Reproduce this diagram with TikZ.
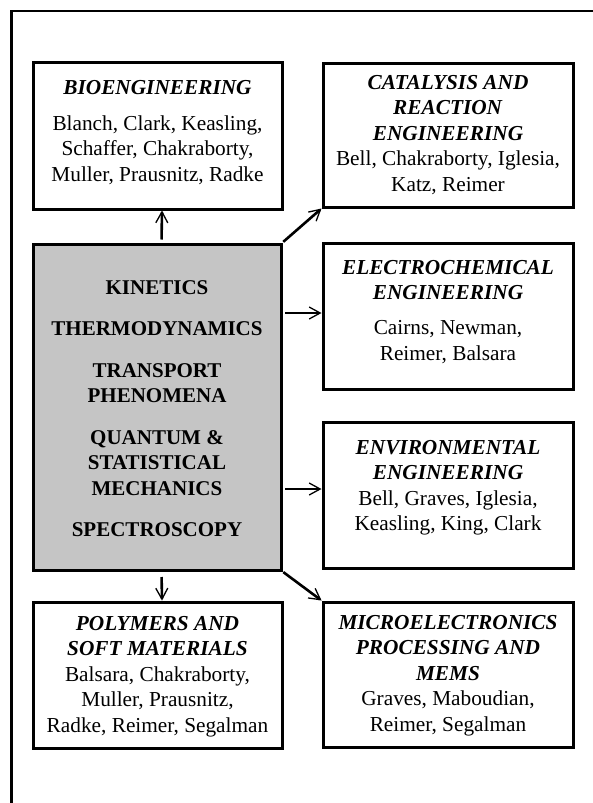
\documentclass[tikz,border=0pt]{standalone}
\usepackage{fontspec}
\setmainfont{Liberation Serif}
\usetikzlibrary{arrows.meta}
\definecolor{boxgray}{RGB}{197,197,197}
\tikzset{
  frame/.style={line width=2.5pt, line join=miter},
  areabox/.style={draw, line width=3pt, inner sep=0pt, fill=white},
  corebox/.style={draw, line width=3pt, inner sep=0pt, fill=boxgray},
  txt/.style={anchor=north, align=center, inner sep=0pt, font=\fontsize{21.3}{25.5}\selectfont},
  coretxt/.style={anchor=north, align=center, inner sep=0pt, font=\fontsize{21}{25.5}\selectfont\bfseries},
  arr/.style={line width=2.6pt, -{Straight Barb[length=11pt,width=12pt,line width=1.3pt]}},
}
\newcommand{\ttl}[1]{\textbf{\textit{#1}}}
\begin{document}
\begin{tikzpicture}[x=1pt,y=-1pt]
\useasboundingbox (0,0) rectangle (592,803);
\fill[white] (0,0) rectangle (592,803);
\draw[frame] (11.5,806) -- (11.5,11) -- (595,11);

% boxes
\node[areabox, minimum width=249pt, minimum height=147pt] (bio) at (157.5,135.5) {};
\node[areabox, minimum width=250pt, minimum height=144pt] (cat) at (448,135) {};
\node[areabox, minimum width=250pt, minimum height=146pt] (elec) at (448,316) {};
\node[areabox, minimum width=250pt, minimum height=146pt] (env) at (448,495) {};
\node[corebox, minimum width=248pt, minimum height=326pt] (core) at (157,407) {};
\node[areabox, minimum width=249pt, minimum height=146pt] (poly) at (157.5,675) {};
\node[areabox, minimum width=250pt, minimum height=145pt] (micro) at (448,674.5) {};

% texts
\node[txt] (biot) at (157.5,79.8) {\ttl{BIOENGINEERING}\\[10.5pt]
  Blanch, Clark, Keasling,\\ Schaffer, Chakraborty,\\ Muller, Prausnitz, Radke};
\node[txt] (catt) at (448,74.8) {\ttl{CATALYSIS AND}\\ \ttl{REACTION}\\ \ttl{ENGINEERING}\\
  Bell, Chakraborty, Iglesia,\\ Katz, Reimer};
\node[txt] (elect) at (448,259.8) {\ttl{ELECTROCHEMICAL}\\ \ttl{ENGINEERING}\\[9.5pt]
  Cairns, Newman,\\ Reimer, Balsara};
\node[txt] (envt) at (448,439.8) {\ttl{ENVIRONMENTAL}\\ \ttl{ENGINEERING}\\
  Bell, Graves, Iglesia,\\ Keasling, King, Clark};
\node[coretxt] (coret) at (157,280) {KINETICS\\[16pt] THERMODYNAMICS\\[16pt]
  TRANSPORT\\ PHENOMENA\\[16pt] QUANTUM \&\\ STATISTICAL\\ MECHANICS\\[16pt] SPECTROSCOPY};
\node[txt] (polyt) at (157.5,615.8) {\ttl{POLYMERS AND}\\ \ttl{SOFT MATERIALS}\\
  Balsara, Chakraborty,\\ Muller, Prausnitz,\\ Radke, Reimer, Segalman};
\node[txt] (microt) at (448,614.8) {\ttl{MICROELECTRONICS}\\ \ttl{PROCESSING AND}\\ \ttl{MEMS}\\
  Graves, Maboudian,\\ Reimer, Segalman};

% connectors
\draw[arr, shorten <=3pt] ([xshift=4.5pt]core.north) -- ([xshift=4.5pt]bio.south);
\draw[arr, shorten <=5.5pt] ([xshift=4.5pt]core.south) -- ([xshift=4.5pt]poly.north);
\draw[arr, shorten <=1pt] (core.north east) -- (cat.south west);
\draw[arr, shorten <=1pt] (core.south east) -- (micro.north west);
\coordinate (ea) at ([yshift=3pt]elec.west);
\coordinate (eb) at ([yshift=6pt]env.west);
\draw[arr, shorten <=2.5pt] (ea -| core.east) -- (ea);
\draw[arr, shorten <=2.5pt] (eb -| core.east) -- (eb);
\end{tikzpicture}
\end{document}
